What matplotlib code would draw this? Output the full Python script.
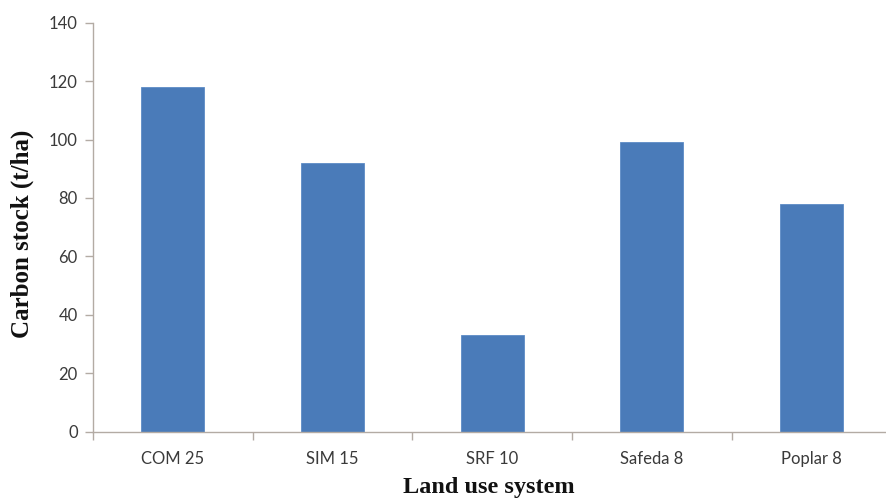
import numpy as np
import matplotlib.pyplot as plt
from matplotlib.ticker import FixedLocator

# Stock de carbono por sistema de uso de suelo
sistemas = ['COM 25', 'SIM 15', 'SRF 10', 'Safeda 8', 'Poplar 8']
carbono = [118, 92, 33, 99, 78]

color_barra = '#4a7bb9'
color_eje = '#b3aba4'

fig = plt.figure(figsize=(8.86, 5.03), dpi=100)
ax = fig.add_axes([0.105, 0.1418, 0.901, 0.813])

x = np.arange(len(sistemas))
ax.bar(x, carbono, width=0.395, color=color_barra, edgecolor='#5d8cc6', linewidth=0.6)

# Ejes al estilo Excel: solo izquierda y abajo
ax.set_xlim(-0.5, len(sistemas) - 0.5)
ax.set_ylim(0, 140)
ax.set_yticks(np.arange(0, 141, 20))
for lado in ['top', 'right']:
    ax.spines[lado].set_visible(False)
for lado in ['left', 'bottom']:
    ax.spines[lado].set_color(color_eje)
    ax.spines[lado].set_linewidth(1.0)

# Etiquetas en el centro, marcas entre categorías
ax.set_xticks(x)
ax.set_xticklabels(sistemas)
ax.xaxis.set_minor_locator(FixedLocator(np.arange(-0.5, len(sistemas), 1.0)))
ax.tick_params(axis='x', which='major', length=0, pad=14, labelsize=12, labelcolor='#3a3a3a')
ax.tick_params(axis='x', which='minor', length=6, width=1.0, color=color_eje, direction='out')
ax.tick_params(axis='y', length=6, width=1.0, color=color_eje, direction='out', pad=5,
               labelsize=12, labelcolor='#3a3a3a')
for lbl in ax.get_xticklabels() + ax.get_yticklabels():
    lbl.set_family('Lato')

ax.set_ylabel('Carbon stock (t/ha)', family='Liberation Serif', fontweight='bold',
              fontsize=18, color='#111111')
ax.set_xlabel('Land use system', family='Liberation Serif', fontweight='bold',
              fontsize=17.5, color='#111111')
ax.xaxis.set_label_coords(0.4955, -0.112)
ax.yaxis.set_label_coords(-0.074, 0.483)

plt.savefig('out.png', dpi=100)
